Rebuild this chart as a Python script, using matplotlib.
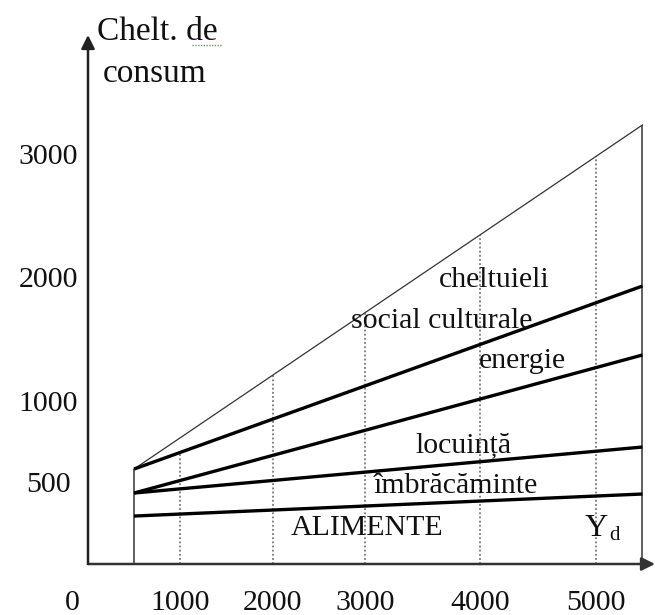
import numpy as np
import matplotlib.pyplot as plt

plt.rcParams["font.family"] = ["Liberation Serif", "DejaVu Serif"]

income_ticks = [0, 1000, 2000, 3000, 4000, 5000]
spend_ticks = [500, 1000, 2000, 3000]
grid_income = [1000, 2000, 3000, 4000, 5000]

income_range = [500, 5400]          # disposable income Yd, start / end
total = [586, 3244]                 # upper envelope (thin line)
social = [586, 1935]                # cheltuieli social culturale
energy = [438, 1379]                # energie
housing = [438, 722]                # locuinta
clothing = [296, 432]               # imbracaminte / alimente boundary

# ---------- the drawing's axes are not uniform: piecewise scale ----------
X_VALS = [0, 1000, 2000, 3000, 4000, 5000]
X_PX = [0, 92, 185, 277, 392, 508]
Y_VALS = [0, 500, 1000, 2000, 3000]
Y_PX = [0, 81, 162, 286, 409]


def make_scale(vals, pix):
    s0 = (pix[1] - pix[0]) / (vals[1] - vals[0])
    s1 = (pix[-1] - pix[-2]) / (vals[-1] - vals[-2])
    v = [vals[0] - 1e5] + list(vals) + [vals[-1] + 1e5]
    p = [pix[0] - 1e5 * s0] + list(pix) + [pix[-1] + 1e5 * s1]

    def fwd(a):
        return np.interp(a, v, p)

    def inv(a):
        return np.interp(a, p, v)

    return fwd, inv


fx, ix = make_scale(X_VALS, X_PX)
fy, iy = make_scale(Y_VALS, Y_PX)

W, H = 655, 615
AX_X, AX_Y = 88, 564   # pixel position of the origin

fig = plt.figure(figsize=(W / 100, H / 100), dpi=100)
ax = fig.add_axes([0, 0, 1, 1])
ax.set_xscale("function", functions=(fx, ix))
ax.set_yscale("function", functions=(fy, iy))
ax.set_xlim(ix(-AX_X), ix(W - AX_X))
ax.set_ylim(iy(-(H - AX_Y)), iy(AX_Y))
ax.axis("off")


def px(x, y):
    return x / W, 1 - y / H


def on_line(ys, x):
    # point on a straight (in the drawing) segment
    return iy(np.interp(fx(x), fx(np.array(income_range)), fy(np.array(ys))))


# ---------- axes with arrows ----------
ax.annotate("", xy=px(W, AX_Y), xytext=px(AX_X, AX_Y), xycoords="axes fraction",
            arrowprops=dict(arrowstyle="-|>", lw=1.8, color="#333333",
                            mutation_scale=20, shrinkA=0, shrinkB=0))
ax.annotate("", xy=px(AX_X, 35), xytext=px(AX_X, AX_Y), xycoords="axes fraction",
            arrowprops=dict(arrowstyle="-|>", lw=1.8, color="#222222",
                            mutation_scale=20, shrinkA=0, shrinkB=0))

# ---------- dotted guides ----------
tops = [on_line(social, grid_income[0])] + [on_line(total, x) for x in grid_income[1:]]
ax.vlines(grid_income, 0, tops, colors="#777777", linestyles=(0, (1, 1.3)), lw=1.3)

# ---------- boundaries and lines ----------
ax.vlines(income_range, 0, total, colors="#444444", lw=1.2)
ax.plot(income_range, total, color="#333333", lw=0.9)
for ys in [social, energy, housing, clothing]:
    ax.plot(income_range, ys, color="black", lw=2.4, solid_capstyle="butt")

# ---------- tick labels ----------
fs = 21.5
for v in income_ticks:
    ax.annotate(f"{v}", xy=(v, 0), xytext=(-8 if v == 0 else 0, -46),
                textcoords="offset pixels", ha="right" if v == 0 else "center",
                va="baseline", fontsize=fs, color="#111111")
for v in spend_ticks:
    ax.annotate(f"{v}", xy=(0, v), xytext=(-40, -9),
                textcoords="offset pixels", ha="center",
                va="baseline", fontsize=fs, color="#111111")

# ---------- axis title ----------
ax.text(*px(157, 40), "Chelt. de", transform=ax.transAxes, ha="center",
        va="baseline", fontsize=24, color="#111111")
ax.text(*px(155, 82), "consum", transform=ax.transAxes, ha="center",
        va="baseline", fontsize=24, color="#111111")
ax.plot([px(192, 45)[0], px(222, 45)[0]], [px(192, 45)[1]] * 2,
        transform=ax.transAxes, color="#5aa05a", ls=(0, (1, 1)), lw=1)

# ---------- region labels ----------
labels = [
    ("cheltuieli", 494, 287),
    ("social culturale", 442, 328),
    ("energie", 522, 368),
    ("locuință", 464, 452),
    ("îmbrăcăminte", 456, 493),
    ("ALIMENTE", 367, 535),
]
for txt, x, y in labels:
    ax.text(*px(x, y), txt, transform=ax.transAxes, ha="center",
            va="baseline", fontsize=fs, color="#111111")

ax.text(*px(596, 536), "Y", transform=ax.transAxes, ha="center",
        va="baseline", fontsize=23, color="#111111")
ax.text(*px(614, 540), "d", transform=ax.transAxes, ha="center",
        va="baseline", fontsize=15, color="#111111")

fig.savefig("out.png", dpi=100)
